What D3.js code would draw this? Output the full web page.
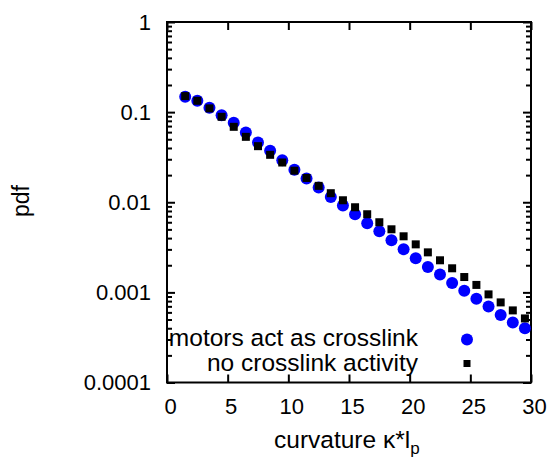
<!DOCTYPE html>
<html><head><meta charset="utf-8">
<script src="https://cdn.jsdelivr.net/npm/d3@7"></script>
<style>body{margin:0;background:#fff} svg text{font-family:"Liberation Sans",Arial,Helvetica,sans-serif;fill:#000}</style>
</head><body><svg id="c" width="548" height="461"></svg>
<script>
// ---- data ----
const curvature = [1.5,2.5,3.5,4.5,5.5,6.5,7.5,8.5,9.5,10.5,11.5,12.5,13.5,14.5,15.5,16.5,17.5,18.5,19.5,20.5,21.5,22.5,23.5,24.5,25.5,26.5,27.5,28.5,29.5];
const motorsActAsCrosslink = [0.148,0.1336,0.1117,0.0926,0.0760,0.0595,0.0461,0.0372,0.0293,0.0230,0.0183,0.01456,0.01145,0.00919,0.00736,0.00585,0.00476,0.00378,0.00301,0.00239,0.00191,0.00158,0.00127,0.00104,0.000851,0.000699,0.000560,0.000464,0.000401];
const noCrosslinkActivity = [0.1506,0.1336,0.110,0.0887,0.0687,0.0532,0.0419,0.0336,0.0276,0.0224,0.0186,0.0152,0.0126,0.01052,0.00880,0.00736,0.00600,0.00501,0.00419,0.00341,0.00278,0.00227,0.00185,0.00148,0.00121,0.000950,0.000774,0.000631,0.000514];
const seriesNames = ["motors act as crosslink","no crosslink activity"];
const xTickValues = [0,5,10,15,20,25,30];
const yTickValues = [1,0.1,0.01,0.001,0.0001];
const yTickLabels = ["1","0.1","0.01","0.001","0.0001"];
const xTitle = "curvature \u03BA*l";
const xTitleSub = "p";
const yTitle = "pdf";

// ---- layout ----
const L = 167, R = 531, T = 22, B = 382.5;
const svg = d3.select("#c");
const x = d3.scaleLinear().domain([0,30]).range([L,R]);
const y = d3.scaleLog().domain([0.0001,1]).range([B,T]);

const minorY = [];
yTickValues.forEach(v => { if (v < 1) for (let k=2;k<=9;k++) minorY.push(v*k); });

function styleAxis(g){
  g.select(".domain").remove();
  g.selectAll("line").attr("stroke","#000").attr("stroke-width",2);
  g.selectAll("text").attr("font-size",22).attr("fill","#000");
}

// left major
svg.append("g").attr("transform",`translate(${L},0)`)
  .call(d3.axisLeft(y).tickValues(yTickValues).tickFormat((d,i)=>yTickLabels[i]).tickSize(-8).tickPadding(16))
  .call(styleAxis);
// left minor
svg.append("g").attr("transform",`translate(${L},0)`)
  .call(d3.axisLeft(y).tickValues(minorY).tickFormat("").tickSize(-5))
  .call(styleAxis);
// right major/minor
svg.append("g").attr("transform",`translate(${R},0)`)
  .call(d3.axisRight(y).tickValues(yTickValues).tickFormat("").tickSize(-8))
  .call(styleAxis);
svg.append("g").attr("transform",`translate(${R},0)`)
  .call(d3.axisRight(y).tickValues(minorY).tickFormat("").tickSize(-5))
  .call(styleAxis);
// bottom
const gx = svg.append("g").attr("transform",`translate(0,${B})`)
  .call(d3.axisBottom(x).tickValues(xTickValues).tickFormat(d3.format("d")).tickSize(-8).tickPadding(16))
  .call(styleAxis);
gx.selectAll("text").attr("dx",3);
// top
svg.append("g").attr("transform",`translate(0,${T})`)
  .call(d3.axisTop(x).tickValues(xTickValues).tickFormat("").tickSize(-8))
  .call(styleAxis);

// frame
svg.append("rect").attr("x",L).attr("y",T).attr("width",R-L).attr("height",B-T)
  .attr("fill","none").attr("stroke","#000").attr("stroke-width",2);

// titles
const xt = svg.append("text").attr("x",274).attr("y",448).attr("font-size",24.5);
xt.append("tspan").text(xTitle);
xt.append("tspan").attr("font-size",17).attr("dy",6).text(xTitleSub);
svg.append("text").attr("transform","translate(29,201) rotate(-90)")
  .attr("text-anchor","middle").attr("font-size",23).text(yTitle);

// data
const blue = "#0000ff";
svg.append("g").selectAll("circle").data(curvature).join("circle")
  .attr("cx",(d)=>x(d)).attr("cy",(d,i)=>y(motorsActAsCrosslink[i])).attr("r",6).attr("fill",blue);
const sq = 8;
svg.append("g").selectAll("rect").data(curvature).join("rect")
  .attr("x",(d)=>x(d)-sq/2).attr("y",(d,i)=>y(noCrosslinkActivity[i])-sq/2)
  .attr("width",sq).attr("height",sq).attr("fill","#000");

// legend
const lg = svg.append("g");
lg.append("text").attr("x",418).attr("y",346).attr("text-anchor","end").attr("font-size",24.5).text(seriesNames[0]);
lg.append("text").attr("x",418).attr("y",371).attr("text-anchor","end").attr("font-size",24.5).text(seriesNames[1]);
lg.append("circle").attr("cx",467).attr("cy",339.5).attr("r",6).attr("fill",blue);
lg.append("rect").attr("x",467-3.5).attr("y",363.5-3.5).attr("width",7).attr("height",7).attr("fill","#000");
</script>
</body></html>
